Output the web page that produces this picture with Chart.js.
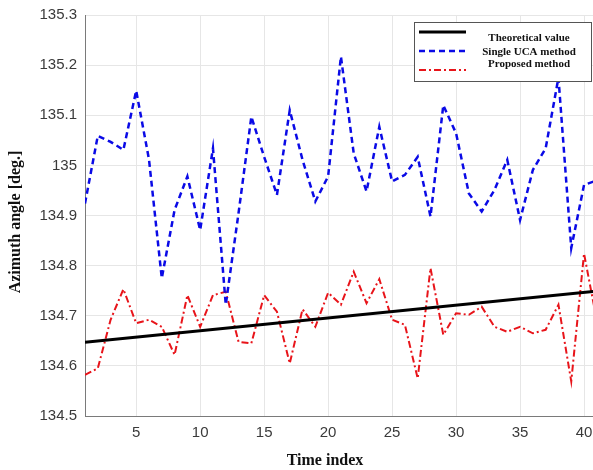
<!DOCTYPE html>
<html>
<head>
<meta charset="utf-8">
<script src="https://cdn.jsdelivr.net/npm/chart.js@4"></script>
<style>
  html, body { margin: 0; padding: 0; background: #fff; }
  #wrap { width: 593px; height: 470px; }
</style>
</head>
<body>
<div id="wrap"><canvas id="chart" width="593" height="470"></canvas></div>
<script>
// values
const timeIndex = [1, 2, 3, 4, 5, 6, 7, 8, 9, 10, 11, 12, 13, 14, 15, 16, 17, 18, 19, 20,
  21, 22, 23, 24, 25, 26, 27, 28, 29, 30, 31, 32, 33, 34, 35, 36, 37, 38, 39, 40, 41];
const singleUca = [134.924, 135.059, 135.047, 135.031, 135.149, 135.012, 134.775, 134.911, 134.978, 134.871,
  135.034, 134.722, 134.905, 135.097, 135.017, 134.941, 135.110, 135.011, 134.928, 134.978,
  135.217, 135.024, 134.948, 135.077, 134.968, 134.981, 135.017, 134.898, 135.120, 135.064,
  134.944, 134.908, 134.951, 135.011, 134.891, 134.991, 135.034, 135.175, 134.835, 134.961, 134.970];
const proposed = [134.582, 134.595, 134.692, 134.753, 134.685, 134.692, 134.678, 134.622, 134.741, 134.678,
  134.741, 134.748, 134.648, 134.645, 134.741, 134.708, 134.605, 134.713, 134.678, 134.746,
  134.722, 134.788, 134.725, 134.773, 134.692, 134.682, 134.575, 134.795, 134.662, 134.705,
  134.702, 134.718, 134.678, 134.668, 134.678, 134.665, 134.672, 134.722, 134.569, 134.824, 134.690];
const theoryX = [1, 41];
const theoryY = [134.647, 134.749];
const xTicks = [5, 10, 15, 20, 25, 30, 35, 40];
const seriesNames = ["Theoretical value", "Single UCA method", "Proposed method"];

const toPoints = (xs, ys) => xs.map((x, i) => ({ x: x, y: ys[i] }));

// legend box + axis titles drawn by hand to match the MATLAB layout
const overlay = {
  id: "overlay",
  afterDatasetsDraw(chart) {
    const ctx = chart.ctx;
    ctx.save();
    // legend
    ctx.fillStyle = "#fff";
    ctx.fillRect(414, 22, 177, 59);
    ctx.strokeStyle = "#555";
    ctx.lineWidth = 1;
    ctx.strokeRect(414.5, 22.5, 177, 59);
    const lineY = [32, 51, 70];
    const textY = [38, 52, 64];
    chart.data.datasets.forEach((ds, i) => {
      ctx.beginPath();
      ctx.strokeStyle = ds.borderColor;
      ctx.lineWidth = ds.borderWidth;
      ctx.setLineDash(ds.borderDash || []);
      ctx.moveTo(419, lineY[i]);
      ctx.lineTo(466, lineY[i]);
      ctx.stroke();
      ctx.setLineDash([]);
      ctx.fillStyle = "#111";
      ctx.font = "bold 11px 'Liberation Serif', 'Times New Roman', serif";
      ctx.textAlign = "center";
      ctx.textBaseline = "middle";
      ctx.fillText(ds.label, 529, textY[i]);
    });
    ctx.restore();
  },
  afterDraw(chart) {
    const ctx = chart.ctx;
    ctx.save();
    ctx.fillStyle = "#111";
    ctx.font = "bold 16px 'Liberation Serif', 'Times New Roman', serif";
    ctx.textAlign = "center";
    ctx.textBaseline = "middle";
    ctx.fillText("Time index", 325, 461);
    ctx.translate(16, 222);
    ctx.rotate(-Math.PI / 2);
    ctx.fillText("Azimuth angle [deg.]", 0, 0);
    ctx.restore();
  }
};

new Chart(document.getElementById("chart"), {
  type: "line",
  data: {
    datasets: [
      {
        label: seriesNames[0],
        data: toPoints(theoryX, theoryY),
        borderColor: "#000",
        borderWidth: 3,
        pointRadius: 0
      },
      {
        label: seriesNames[1],
        data: toPoints(timeIndex, singleUca),
        borderColor: "#0a0ae6",
        borderWidth: 2.5,
        borderDash: [6, 4],
        pointRadius: 0
      },
      {
        label: seriesNames[2],
        data: toPoints(timeIndex, proposed),
        borderColor: "#e8141a",
        borderWidth: 2,
        borderDash: [7, 3, 2, 3],
        pointRadius: 0
      }
    ]
  },
  options: {
    responsive: false,
    devicePixelRatio: 1,
    animation: false,
    layout: { padding: { top: 15, right: 0, bottom: 0, left: 0 } },
    plugins: {
      legend: { display: false },
      tooltip: { enabled: false }
    },
    scales: {
      x: {
        type: "linear",
        min: 1,
        max: 40.7,
        afterBuildTicks: s => { s.ticks = xTicks.map(v => ({ value: v })); },
        afterFit: s => { s.height = 54; s.paddingRight = 0; s.paddingLeft = 0; },
        grid: { color: "#e6e6e6", drawTicks: false },
        border: { color: "#7a7a7a", width: 1 },
        ticks: {
          padding: 8,
          color: "#3a3a3a",
          font: { family: "'Liberation Sans', Arial, sans-serif", size: 15 },
          maxRotation: 0
        }
      },
      y: {
        min: 134.5,
        max: 135.3,
        afterFit: s => { s.width = 85; s.paddingTop = 0; s.paddingBottom = 0; },
        grid: { color: "#e6e6e6", drawTicks: false },
        border: { color: "#7a7a7a", width: 1 },
        ticks: {
          stepSize: 0.1,
          padding: 8,
          color: "#3a3a3a",
          font: { family: "'Liberation Sans', Arial, sans-serif", size: 15 },
          callback: v => String(+v.toFixed(1))
        }
      }
    }
  },
  plugins: [overlay]
});
</script>
</body>
</html>
